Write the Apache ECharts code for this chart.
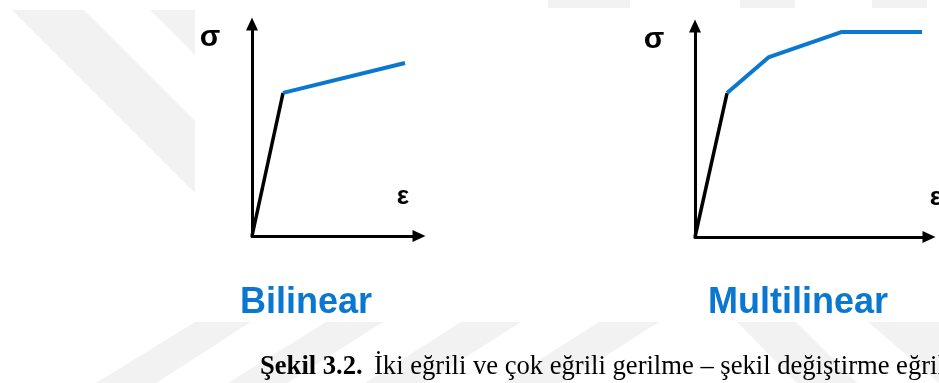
<!DOCTYPE html>
<html>
<head>
<meta charset="utf-8">
<script src="https://cdn.jsdelivr.net/npm/echarts@6/dist/echarts.min.js"></script>
<style>
  html, body { margin: 0; padding: 0; background: #fff; }
  #chart { width: 939px; height: 383px; }
</style>
</head>
<body>
<div id="chart"></div>
<script>
// strain / stress in arbitrary units (axes 0..10)
const biElastic = [[0, 0], [1.86, 6.75]];
const biPlastic = [[1.86, 6.75], [9.16, 8.16]];
const multiElastic = [[0, 0], [1.37, 6.82]];
const multiPlastic = [[1.37, 6.82], [3.16, 8.53], [6.28, 9.72], [9.7, 9.72]];
const titles = ['Bilinear', 'Multilinear'];

const BLUE = '#0a78d0';
const SANS = '"Liberation Sans", Arial, sans-serif';
const SERIF = '"Liberation Serif", "Times New Roman", serif';

const chart = echarts.init(document.getElementById('chart'));

// faint background watermark stripes
const wm = [
  [[12, 10], [84, 10], [195, 121], [195, 193]],
  [[150, 10], [195, 10], [195, 55]],
  [[195, 322], [251, 322], [156, 383], [96, 383]],
  [[326, 322], [383, 322], [287, 383], [228, 383]],
  [[461, 322], [521, 322], [425, 383], [365, 383]],
  [[599, 322], [659, 322], [563, 383], [503, 383]],
  [[737, 322], [796, 322], [857, 383], [797, 383]],
  [[868, 322], [939, 322], [939, 383]],
  [[740, 0], [795, 0], [795, 8], [740, 8]],
  [[872, 0], [927, 0], [927, 8], [872, 8]],
  [[548, 0], [630, 0], [630, 8], [548, 8]]
];
const graphics = wm.map(p => ({
  type: 'polygon', silent: true, z: -10,
  shape: { points: p }, style: { fill: '#f2f2f2' }
}));
graphics.push({ type: 'rect', silent: true, z: -9,
  shape: { x: 195, y: 8, width: 744, height: 314 }, style: { fill: '#fff' } });

function label(text, x, y, font) {
  return { type: 'text', x: x, y: y, z: 10,
    style: Object.assign({ text: text, fill: '#000', textAlign: 'center', textVerticalAlign: 'middle' }, font) };
}
graphics.push(label('σ', 210, 38, { font: 'bold 30px ' + SANS }));
graphics.push(label('σ', 654, 40, { font: 'bold 30px ' + SANS }));
graphics.push(label('ε', 403, 197, { font: 'bold 26px ' + SANS }));
graphics.push(label('ε', 936, 198, { font: 'bold 26px ' + SANS }));
graphics.push(label(titles[0], 306, 303, { font: 'bold 36px ' + SANS, fill: BLUE }));
graphics.push(label(titles[1], 798, 303, { font: 'bold 36px ' + SANS, fill: BLUE }));
graphics.push({ type: 'text', x: 260, y: 367, z: 10,
  style: { text: 'Şekil 3.2.', font: 'bold 26.6px ' + SERIF, fill: '#000', textVerticalAlign: 'middle' } });
graphics.push({ type: 'text', x: 374, y: 367, z: 10,
  style: { text: 'İki eğrili ve çok eğrili gerilme – şekil değiştirme eğrileri', font: '26.6px ' + SERIF, fill: '#000', textVerticalAlign: 'middle' } });

function axis(idx) {
  return {
    type: 'value', gridIndex: idx, min: 0, max: 10,
    axisLine: { show: true, symbol: ['none', 'triangle'], symbolSize: [12, 13],
      lineStyle: { color: '#000', width: 3 } },
    axisTick: { show: false }, axisLabel: { show: false }, splitLine: { show: false }
  };
}

function line(data, idx, color, width) {
  return { type: 'line', data: data, xAxisIndex: idx, yAxisIndex: idx,
    symbol: 'none', silent: true, animation: false,
    lineStyle: { color: color, width: width } };
}

chart.setOption({
  animation: false,
  grid: [
    { left: 252, top: 24, width: 167, height: 212 },
    { left: 695, top: 26, width: 234, height: 211 }
  ],
  xAxis: [axis(0), axis(1)],
  yAxis: [axis(0), axis(1)],
  series: [
    line(biElastic, 0, '#000', 3.5),
    line(biPlastic, 0, BLUE, 4),
    line(multiElastic, 1, '#000', 3.5),
    line(multiPlastic, 1, BLUE, 4)
  ],
  graphic: graphics
});
</script>
</body>
</html>
